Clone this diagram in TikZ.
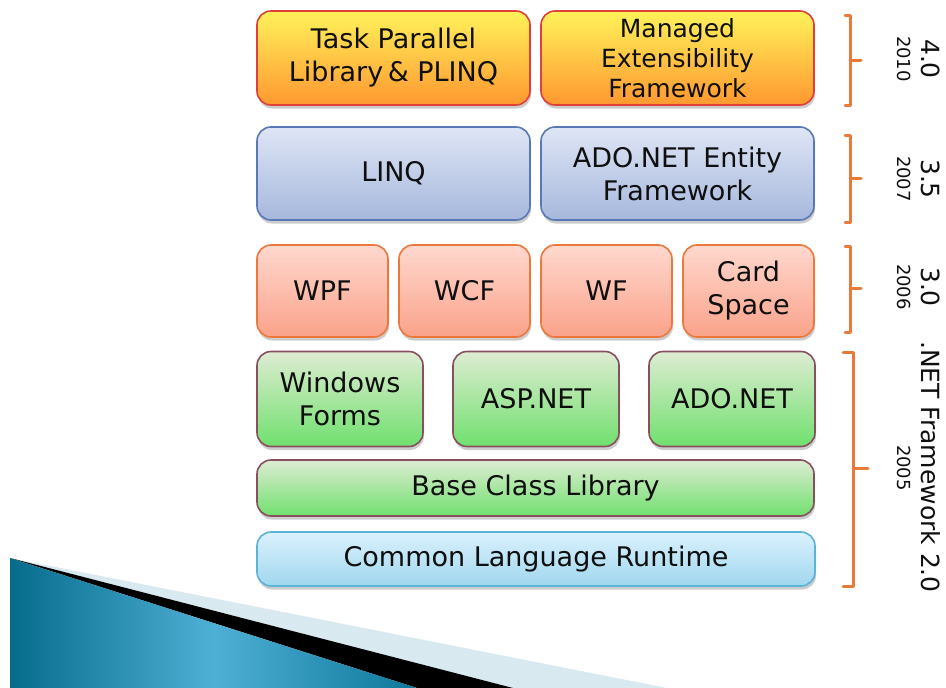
\documentclass[tikz,border=0pt]{standalone}
\usepackage{fontspec}
\setmainfont{DejaVu Sans}
\usetikzlibrary{shadows}
\definecolor{txt}{RGB}{15,15,15}
\definecolor{ytop}{RGB}{255,242,90}
\definecolor{ybot}{RGB}{255,152,48}
\definecolor{ybd}{RGB}{224,64,58}
\definecolor{btop}{RGB}{222,229,245}
\definecolor{bbot}{RGB}{166,184,220}
\definecolor{bbd}{RGB}{88,120,182}
\definecolor{stop}{RGB}{255,216,206}
\definecolor{sbot}{RGB}{250,162,138}
\definecolor{sbd}{RGB}{236,120,60}
\definecolor{gtop}{RGB}{222,236,210}
\definecolor{gbot}{RGB}{112,224,110}
\definecolor{gbd}{RGB}{136,80,94}
\definecolor{ctop}{RGB}{218,241,253}
\definecolor{cbot}{RGB}{160,215,238}
\definecolor{cbd}{RGB}{90,180,214}
\definecolor{brc}{RGB}{234,122,58}
\definecolor{tealdark}{RGB}{6,108,140}
\definecolor{teallight}{RGB}{78,176,212}
\definecolor{tealmid}{RGB}{14,120,154}
\definecolor{paleband}{RGB}{216,233,240}
\begin{document}
\begin{tikzpicture}[x=1pt,y=-1pt,
  box/.style={draw, line width=1.6pt, rounded corners=14pt, align=center,
    inner sep=0pt, text=txt, font=\fontsize{27}{33}\selectfont,
    drop shadow={opacity=0.4, shadow xshift=1pt, shadow yshift=-3.5pt}},
  r40/.style={top color=ytop, bottom color=ybot, draw=ybd},
  r35/.style={top color=btop, bottom color=bbot, draw=bbd},
  r30/.style={top color=stop, bottom color=sbot, draw=sbd},
  r20/.style={top color=gtop, bottom color=gbot, draw=gbd},
  rclr/.style={top color=ctop, bottom color=cbot, draw=cbd},
  brace/.style={draw=brc, line width=3pt, line join=round, line cap=round},
  lbig/.style={rotate=-90, inner sep=0pt, text=txt, font=\fontsize{25}{25}\selectfont},
  lsmall/.style={rotate=-90, inner sep=0pt, text=txt, font=\fontsize{18}{18}\selectfont}
]
\useasboundingbox (0,0) rectangle (946,688);
% decoration bottom left
\fill[paleband] (10,558) -- (667,688) -- (513,688) -- cycle;
\fill[black] (10,558) -- (513,688) -- (417,688) -- cycle;
\shade[left color=tealdark, right color=tealmid, middle color=teallight]
  (10,558) -- (417,688) -- (10,688) -- cycle;
% row 4.0
\node[box, r40, minimum width=273pt, minimum height=94pt] (tpl) at (393.5,58)
  {Task Parallel\\Library\,\& PLINQ};
\node[box, r40, minimum width=273pt, minimum height=94pt,
  font=\fontsize{25}{30}\selectfont] (mef) at (677.5,58)
  {Managed\\Extensibility\\Framework};
% row 3.5
\node[box, r35, minimum width=273pt, minimum height=93pt] (linq) at (393.5,173.5) {LINQ};
\node[box, r35, minimum width=273pt, minimum height=93pt] (adoef) at (677.5,173.5)
  {ADO.NET Entity\\Framework};
% row 3.0
\node[box, r30, minimum width=131pt, minimum height=92pt] (wpf) at (322.5,291) {WPF};
\node[box, r30, minimum width=131pt, minimum height=92pt] (wcf) at (464.5,291) {WCF};
\node[box, r30, minimum width=131pt, minimum height=92pt] (wf) at (606.5,291) {WF};
\node[box, r30, minimum width=131pt, minimum height=92pt] (card) at (748.5,291) {Card\\Space};
% row 2.0
\node[box, r20, minimum width=166pt, minimum height=95pt] (winf) at (340,399) {Windows\\Forms};
\node[box, r20, minimum width=166pt, minimum height=95pt] (asp) at (536,399) {ASP.NET};
\node[box, r20, minimum width=166pt, minimum height=95pt] (ado) at (732,399) {ADO.NET};
\node[box, r20, minimum width=557pt, minimum height=56pt] (bcl) at (535.5,488) {Base Class Library};
\node[box, rclr, minimum width=558pt, minimum height=54pt] (clr) at (536,559) {Common Language Runtime};
% braces
\draw[brace] (845,15) -- (850,15) -- (850,105) -- (845,105) (850,60) -- (861,60);
\draw[brace] (845,135) -- (850,135) -- (850,222) -- (845,222) (850,178) -- (861,178);
\draw[brace] (845,246) -- (850,246) -- (850,332) -- (845,332) (850,288) -- (861,288);
\draw[brace] (843,352) -- (853,352) -- (853,586) -- (843,586) (853,468) -- (868,468);
% labels
\node[lbig] (v40) at (931,59) {4.0};
\node[lsmall] (y10) at (904,59) {2010};
\node[lbig] (v35) at (931,179) {3.5};
\node[lsmall] (y07) at (904,179) {2007};
\node[lbig] (v30) at (931,287) {3.0};
\node[lsmall] (y06) at (904,287) {2006};
\node[lbig] (v20) at (931,467) {.NET Framework 2.0};
\node[lsmall] (y05) at (904,468) {2005};
\end{tikzpicture}
\end{document}
